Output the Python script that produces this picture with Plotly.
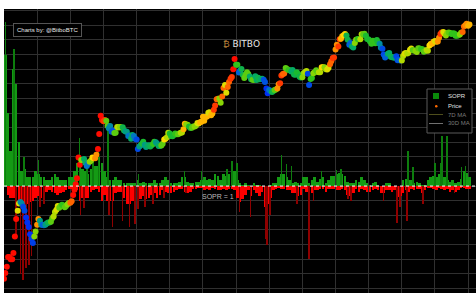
import pandas as pd
import plotly.graph_objects as go

# ---------------- data ----------------
first_month = "2011-01-01"

# BTC price, 1st and 15th of each month, Jan 2011 .. Jan 2025
price = [
    0.30, 0.40, 0.55, 0.9, 0.9, 0.8, 0.8, 1.1, 2.5, 6, 9, 13,                      # 2011 H1
    14, 13, 11, 9, 6.5, 5, 4, 2.8, 2.2, 1.8, 2.5, 3.2,                             # 2011 H2
    4.5, 6, 5.5, 4.5, 4.5, 4.4, 4.5, 4.8, 5.0, 5.0, 5.2, 6.2,                      # 2012 H1
    6.8, 8.5, 9.5, 11.5, 10.5, 11.5, 12.2, 11.8, 10.8, 11.5, 12.5, 13.3,           # 2012 H2
    13.5, 14.5, 20, 26, 34, 46, 130, 90, 115, 115, 120, 100,                       # 2013 H1
    85, 95, 105, 110, 130, 125, 125, 150, 200, 420, 1050, 850,                     # 2013 H2
    800, 850, 820, 640, 560, 630, 470, 500, 440, 450, 600, 580,                    # 2014 H1
    600, 580, 590, 500, 480, 470, 380, 390, 330, 400, 380, 330,                    # 2014 H2
    320, 200, 225, 240, 260, 285, 245, 220, 235, 240, 225, 240,                    # 2015 H1
    255, 285, 280, 260, 230, 230, 238, 260, 320, 330, 360, 450,                    # 2015 H2
    430, 380, 375, 400, 430, 415, 417, 430, 450, 455, 535, 700,                    # 2016 H1
    675, 665, 610, 570, 575, 610, 615, 640, 730, 710, 755, 780,                    # 2016 H2
    1000, 820, 990, 1010, 1220, 1250, 1080, 1180, 1420, 1750, 2400, 2450,          # 2017 H1
    2500, 2000, 2750, 4200, 4900, 3300, 4400, 5700, 6700, 7300, 10800, 18000,      # 2017 H2
    13500, 13500, 9100, 10100, 10900, 8200, 6900, 8000, 9200, 8500, 7500, 6500,    # 2018 H1
    6350, 6300, 7600, 6300, 7000, 6500, 6600, 6650, 6350, 5700, 4100, 3250,        # 2018 H2
    3800, 3600, 3450, 3600, 3800, 3900, 4100, 5100, 5300, 7900, 8500, 8700,        # 2019 H1
    11500, 10900, 10400, 10200, 9600, 10300, 8300, 8200, 9200, 8500, 7400, 7100,   # 2019 H2
    7200, 8800, 9400, 9900, 8600, 4900, 6600, 6900, 8800, 9300, 10200, 9400,       # 2020 H1
    9200, 9200, 11800, 11800, 11900, 10800, 10600, 11500, 13800, 16000, 18800, 19300,  # 2020 H2
    29000, 36800, 33500, 47900, 49600, 56000, 59000, 63000, 57800, 46800, 36700, 40100,  # 2021 H1
    33500, 31800, 39900, 47100, 48800, 48100, 48200, 61500, 61300, 63500, 57200, 48900,  # 2021 H2
    47300, 43100, 38700, 44500, 44400, 39300, 46300, 40500, 38500, 31300, 29800, 22600,  # 2022 H1
    19300, 20800, 23300, 24300, 20100, 19700, 19300, 19100, 20500, 16900, 17100, 16600,  # 2022 H2
    16600, 20900, 23700, 24300, 23500, 24400, 28500, 30300, 28100, 27200, 27200, 25600,  # 2023 H1
    30600, 30300, 29700, 29200, 25900, 26600, 28000, 27200, 35400, 37900, 38700, 42300,  # 2023 H2
    44200, 42500, 43100, 51900, 62400, 67800, 69600, 63400, 58300, 66200, 67700, 66200,  # 2024 H1
    62900, 64700, 64600, 57500, 57300, 59200, 60800, 67000, 69500, 91000, 97200, 104400, # 2024 H2
    94400, 100500,                                                                        # 2025
]

# colour value of the price dots, one per month (0 = blue ... 1 = red)
price_color = [
    1, 1, 1, 1, 1, 0.7, 0.25, 0.1, 0.05, 0.05, 0.08, 0.6,
    0.85, 0.3, 0.15, 0.3, 0.4, 0.55, 0.65, 0.7, 0.55, 0.5, 0.55, 0.6,
    0.9, 1, 1, 1, 0.6, 0.35, 0.2, 0.6, 0.75, 0.85, 1, 1,
    0.95, 0.55, 0.25, 0.12, 0.55, 0.65, 0.6, 0.4, 0.3, 0.2, 0.35, 0.2,
    0.1, 0.3, 0.45, 0.3, 0.35, 0.4, 0.5, 0.3, 0.35, 0.55, 0.75, 0.65,
    0.45, 0.45, 0.5, 0.55, 0.65, 0.8, 0.6, 0.45, 0.55, 0.6, 0.7, 0.8,
    0.8, 0.8, 0.7, 0.8, 0.95, 0.9, 0.6, 0.9, 0.7, 0.9, 0.95, 1,
    0.5, 0.15, 0.4, 0.55, 0.55, 0.35, 0.55, 0.35, 0.4, 0.35, 0.12, 0.05,
    0.2, 0.4, 0.55, 0.85, 0.95, 0.9, 0.55, 0.5, 0.35, 0.4, 0.45, 0.4,
    0.6, 0.65, 0.1, 0.5, 0.6, 0.55, 0.65, 0.75, 0.6, 0.7, 0.9, 0.95,
    0.85, 0.95, 0.8, 0.75, 0.4, 0.15, 0.35, 0.6, 0.5, 0.65, 0.55, 0.45,
    0.45, 0.5, 0.5, 0.45, 0.25, 0.1, 0.15, 0.35, 0.4, 0.35, 0.1, 0.15,
    0.65, 0.7, 0.65, 0.7, 0.55, 0.6, 0.55, 0.5, 0.55, 0.65, 0.75, 0.8,
    0.7, 0.85, 0.95, 0.7, 0.6, 0.55, 0.5, 0.5, 0.5, 0.6, 0.9, 0.85,
    0.8,
]

# monthly upper envelope of SOPR (above 1)
sopr_up = [
    1.45, 1.25, 1.12, 1.40, 1.35, 1.15, 1.05, 1.06, 1.03, 1.03, 1.03, 1.05,
    1.04, 1.03, 1.03, 1.02, 1.02, 1.03, 1.04, 1.03, 1.02, 1.02, 1.02, 1.03,
    1.03, 1.05, 1.08, 1.10, 1.06, 1.05, 1.04, 1.06, 1.07, 1.07, 1.10, 1.08,
    1.05, 1.03, 1.02, 1.02, 1.03, 1.02, 1.02, 1.01, 1.01, 1.01, 1.01, 1.01,
    1.02, 1.01, 1.015, 1.01, 1.01, 1.01, 1.02, 1.01, 1.01, 1.02, 1.03, 1.02,
    1.01, 1.01, 1.01, 1.015, 1.03, 1.03, 1.015, 1.01, 1.01, 1.015, 1.015, 1.02,
    1.03, 1.02, 1.025, 1.02, 1.04, 1.035, 1.02, 1.04, 1.035, 1.04, 1.045, 1.05,
    1.02, 1.01, 1.005, 1.01, 1.005, 1.0, 1.01, 1.005, 1.005, 1.0, 1.0, 1.0,
    1.005, 1.01, 1.01, 1.03, 1.04, 1.04, 1.03, 1.02, 1.01, 1.015, 1.01, 1.01,
    1.03, 1.03, 1.01, 1.02, 1.03, 1.015, 1.025, 1.03, 1.01, 1.02, 1.035, 1.035,
    1.04, 1.045, 1.04, 1.035, 1.015, 1.01, 1.01, 1.02, 1.015, 1.03, 1.02, 1.01,
    1.005, 1.01, 1.015, 1.005, 1.0, 1.0, 1.01, 1.01, 1.0, 1.0, 1.0, 1.0,
    1.02, 1.025, 1.02, 1.02, 1.01, 1.015, 1.01, 1.005, 1.005, 1.02, 1.03, 1.035,
    1.03, 1.04, 1.045, 1.03, 1.02, 1.015, 1.02, 1.01, 1.015, 1.025, 1.05, 1.045,
    1.03,
]

# monthly lower envelope of SOPR (below 1)
sopr_dn = [
    1.0, 0.97, 0.96, 0.96, 0.95, 0.94, 0.94, 0.935, 0.94, 0.945, 0.95, 0.96,
    0.965, 0.96, 0.97, 0.98, 0.985, 0.98, 0.975, 0.97, 0.975, 0.98, 0.985, 0.99,
    0.99, 0.985, 0.985, 0.95, 0.96, 0.96, 0.96, 0.98, 0.985, 0.99, 0.98, 0.95,
    0.97, 0.95, 0.95, 0.95, 0.975, 0.98, 0.98, 0.96, 0.94, 0.94, 0.95, 0.94,
    0.94, 0.955, 0.965, 0.955, 0.96, 0.97, 0.975, 0.96, 0.97, 0.985, 0.98, 0.975,
    0.975, 0.98, 0.985, 0.99, 0.99, 0.98, 0.975, 0.98, 0.99, 0.99, 0.995, 0.995,
    0.985, 0.99, 0.985, 0.995, 0.99, 0.985, 0.985, 0.99, 0.985, 0.99, 0.99, 0.985,
    0.96, 0.945, 0.955, 0.97, 0.985, 0.965, 0.985, 0.975, 0.965, 0.98, 0.93, 0.94,
    0.96, 0.985, 0.99, 0.995, 0.99, 0.99, 0.985, 0.985, 0.975, 0.975, 0.965, 0.97,
    0.99, 0.98, 0.93, 0.975, 0.985, 0.985, 0.99, 0.99, 0.98, 0.99, 0.99, 0.99,
    0.985, 0.985, 0.99, 0.985, 0.97, 0.965, 0.975, 0.99, 0.98, 0.99, 0.985, 0.98,
    0.98, 0.985, 0.99, 0.985, 0.975, 0.975, 0.985, 0.985, 0.98, 0.985, 0.962, 0.965,
    0.975, 0.985, 0.98, 0.99, 0.985, 0.99, 0.99, 0.975, 0.985, 0.995, 0.995, 0.99,
    0.985, 0.995, 0.99, 0.985, 0.99, 0.98, 0.985, 0.98, 0.985, 0.995, 0.995, 0.99,
    0.99,
]

# single-day SOPR extremes (thin spikes)
spike_dates = [
    "2011-01-20", "2011-04-20", "2011-08-10", "2012-01-15", "2013-04-10", "2013-07-01",
    "2013-09-10", "2013-11-05", "2014-02-20", "2015-01-20", "2016-06-10", "2016-12-15",
    "2017-09-20", "2017-11-15", "2018-01-10", "2019-05-15", "2019-07-10", "2019-09-01",
    "2020-08-01", "2021-01-10", "2021-03-01", "2023-03-10", "2023-05-01", "2024-01-01",
    "2024-03-01", "2024-03-20", "2024-05-10", "2024-10-20", "2024-12-01",
    "2011-05-15", "2011-07-01", "2011-08-01", "2011-09-01", "2011-10-05", "2011-11-01",
    "2012-02-01", "2012-03-15", "2013-04-25", "2013-06-01", "2014-03-01", "2014-04-10",
    "2014-08-01", "2014-10-15", "2014-12-15", "2015-01-15", "2015-04-01", "2015-07-01",
    "2015-11-01", "2016-07-01", "2018-02-05", "2018-06-10", "2018-11-20", "2018-12-10",
    "2019-01-10", "2019-11-01", "2020-03-12", "2020-05-01", "2021-05-20", "2021-06-20",
    "2022-06-15", "2022-11-10", "2022-12-10", "2023-03-01", "2023-08-20", "2024-08-05",
]
spike_vals = [
    1.56, 1.47, 1.10, 1.09, 1.165, 1.09,
    1.105, 1.12, 1.20, 1.04, 1.05, 1.05,
    1.06, 1.085, 1.08, 1.105, 1.075, 1.07,
    1.05, 1.055, 1.06, 1.12, 1.065, 1.08,
    1.08, 1.17, 1.17, 1.065, 1.07,
    0.83, 0.70, 0.68, 0.72, 0.73, 0.76,
    0.93, 0.94, 0.90, 0.925, 0.90, 0.86,
    0.88, 0.86, 0.87, 0.92, 0.93, 0.94,
    0.96, 0.975, 0.91, 0.895, 0.82, 0.80,
    0.90, 0.94, 0.75, 0.95, 0.955, 0.95,
    0.95, 0.875, 0.93, 0.88, 0.94, 0.975,
]

legend_names = ["SOPR", "Price", "7D MA", "30D MA"]

# ---------------- figure ----------------
months = pd.date_range(first_month, periods=len(sopr_up), freq="MS") + pd.Timedelta(days=14)
half_months = pd.date_range(first_month, periods=len(price), freq="SMS")
half_colors = [price_color[i // 2] for i in range(len(price))]
month_w = 28 * 24 * 3600 * 1000
spike_w = 6 * 24 * 3600 * 1000

fig = go.Figure()

fig.add_trace(go.Bar(x=months, y=[u - 1 for u in sopr_up], base=1, width=month_w,
                     marker=dict(color="#149a14", line_width=0), name="SOPR", showlegend=False,
                     yaxis="y", hoverinfo="skip"))
fig.add_trace(go.Bar(x=months, y=[d - 1 for d in sopr_dn], base=1, width=month_w,
                     marker=dict(color="#ff0000", line_width=0), showlegend=False,
                     yaxis="y", hoverinfo="skip"))
fig.add_trace(go.Bar(x=pd.to_datetime(spike_dates), y=[v - 1 for v in spike_vals], base=1,
                     width=spike_w,
                     marker=dict(color=["#0d7d0d" if v >= 1 else "#8e0000" for v in spike_vals],
                                 line_width=0),
                     showlegend=False, yaxis="y", hoverinfo="skip"))

fig.add_trace(go.Scatter(x=half_months, y=price, mode="markers", yaxis="y2", name="Price",
                         showlegend=False,
                         marker=dict(size=6, color=half_colors, cmin=0, cmax=1,
                                     colorscale=[[0, "#0018ff"], [0.18, "#0070d0"],
                                                 [0.33, "#00a870"], [0.48, "#20c020"],
                                                 [0.62, "#9ad800"], [0.74, "#ffe000"],
                                                 [0.87, "#ff8000"], [1, "#ff0c00"]],
                                     line_width=0)))

grid = "#303030"
fig.update_layout(
    width=476, height=293,
    margin=dict(l=4, r=0, t=9, b=0),
    paper_bgcolor="#ffffff", plot_bgcolor="#000000",
    font=dict(family="Liberation Sans, Arial, sans-serif", color="#dddddd", size=7),
    barmode="overlay", bargap=0, showlegend=False,
    xaxis=dict(type="date", range=["2011-01-01", "2025-03-28"], showticklabels=False,
               showgrid=True, gridcolor=grid, gridwidth=1, dtick="M12", tick0="2011-01-01",
               zeroline=False, showline=False, ticks=""),
    yaxis=dict(range=[0.634, 1.606], showticklabels=False, showgrid=True, gridcolor=grid,
               dtick=0.05, tick0=1, zeroline=False, ticks=""),
    yaxis2=dict(type="log", range=[-0.83, 5.34], overlaying="y", side="right",
                showticklabels=False, showgrid=False, zeroline=False, ticks=""),
)

# SOPR = 1 reference line
fig.add_shape(type="line", xref="paper", x0=0, x1=1, yref="y", y0=1, y1=1,
              line=dict(color="#ffffff", width=1, dash="dot"))

# compact legend box (paper coordinates)
def px(x):
    return (x - 4) / 472.0

def py(y):
    return (293 - y) / 284.0

fig.add_shape(type="rect", xref="paper", yref="paper", x0=px(427), x1=px(472), y0=py(133), y1=py(89),
              line=dict(color="#5a5a5a", width=1), fillcolor="#000000")
fig.add_shape(type="rect", xref="paper", yref="paper", x0=px(433), x1=px(439), y0=py(99), y1=py(93),
              line=dict(width=0), fillcolor="#0a8a0a")
fig.add_shape(type="circle", xref="paper", yref="paper", x0=px(435), x1=px(437.5), y0=py(107.5),
              y1=py(105), line=dict(width=0), fillcolor="#ff6a00")
fig.add_shape(type="line", xref="paper", yref="paper", x0=px(429), x1=px(443), y0=py(114.5),
              y1=py(114.5), line=dict(color="#4e4e1c", width=1))
fig.add_shape(type="line", xref="paper", yref="paper", x0=px(429), x1=px(443), y0=py(123.5),
              y1=py(123.5), line=dict(color="#707070", width=1))
legend_y = [96, 106, 114.5, 123.5]
legend_col = ["#e0e0e0", "#e0e0e0", "#7a7a7a", "#7a7a7a"]
for name, yy, col in zip(legend_names, legend_y, legend_col):
    fig.add_annotation(text=name, xref="paper", yref="paper", x=px(446), y=py(yy),
                       xanchor="left", yanchor="middle", showarrow=False,
                       font=dict(size=6, color=col))

fig.add_annotation(text="Charts by: @BitboBTC", xref="paper", yref="paper",
                   x=px(13), y=py(30.5), xanchor="left", yanchor="middle", showarrow=False,
                   font=dict(size=6, color="#e8e8e8"), bgcolor="#000000",
                   bordercolor="#555555", borderwidth=1, borderpad=3)
fig.add_annotation(text="<span style='color:#b8823a'>₿</span> BITBO", xref="paper",
                   yref="paper", x=px(241), y=py(44), xanchor="center", yanchor="middle",
                   showarrow=False,
                   font=dict(size=9, color="#e6e6e6", family="DejaVu Sans, sans-serif"))
fig.add_annotation(text="SOPR = 1", xref="x", yref="y", x="2017-06-18", y=0.966,
                   showarrow=False, font=dict(size=7, color="#bbbbbb"))

fig.write_html("out.html", config={"displayModeBar": False},
               post_script="document.body.style.margin='0px';")
